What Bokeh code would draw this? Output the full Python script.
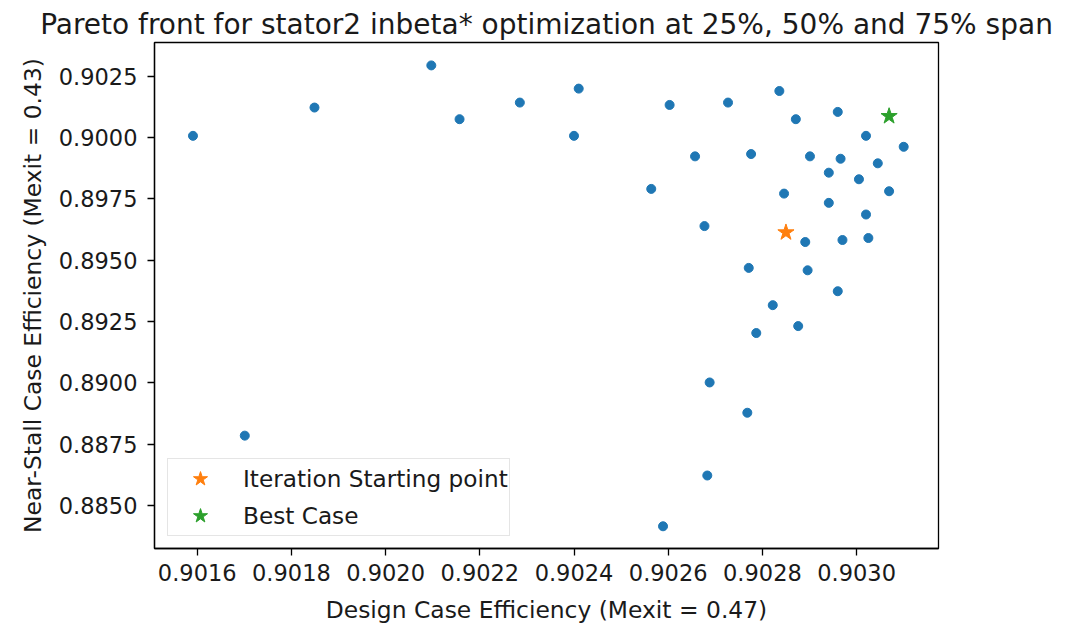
from bokeh.plotting import figure
from bokeh.models import Range1d, FixedTicker, PrintfTickFormatter, Legend, LegendItem
from bokeh.embed import file_html
from bokeh.resources import INLINE

# ---- data ----
design_eff = [0.901591, 0.901849, 0.902097, 0.902157, 0.902285, 0.902410, 0.902400,
              0.902603, 0.902727, 0.902836, 0.902871, 0.902960, 0.903020, 0.903100,
              0.902657, 0.902776, 0.902901, 0.902966, 0.903045, 0.902941, 0.903005,
              0.902564, 0.902846, 0.903069, 0.902941, 0.903020, 0.902677, 0.902891,
              0.902970, 0.903025, 0.902771, 0.902896, 0.902960, 0.902822, 0.902876,
              0.902787, 0.902688, 0.902768, 0.902683, 0.902589, 0.901701]
near_stall_eff = [0.900074, 0.901228, 0.902947, 0.900753, 0.901431, 0.902000, 0.900074,
                  0.901334, 0.901431, 0.901903, 0.900753, 0.901050, 0.900074, 0.899627,
                  0.899237, 0.899331, 0.899237, 0.899140, 0.898953, 0.898571, 0.898303,
                  0.897909, 0.897718, 0.897815, 0.897340, 0.896865, 0.896393, 0.895743,
                  0.895825, 0.895906, 0.894687, 0.894589, 0.893736, 0.893167, 0.892314,
                  0.892030, 0.890014, 0.888779, 0.886219, 0.884148, 0.887845]
start_design = [0.902850]
start_stall = [0.896133]
best_design = [0.903069]
best_stall = [0.900875]

x_ticks = [0.9016, 0.9018, 0.9020, 0.9022, 0.9024, 0.9026, 0.9028, 0.9030]
y_ticks = [0.8850, 0.8875, 0.8900, 0.8925, 0.8950, 0.8975, 0.9000, 0.9025]

FONT = "DejaVu Sans"
TXT = "#1a1a1a"

p = figure(width=1076, height=626, output_backend="svg", toolbar_location=None,
           x_range=Range1d(0.9015093, 0.9031739), y_range=Range1d(0.8832414, 0.9038814),
           min_border_left=154, min_border_right=138, min_border_top=42, min_border_bottom=76,
           title="Pareto front for stator2 inbeta* optimization at 25%, 50% and 75% span")

p.title.align = "center"
p.title.vertical_align = "top"
p.title.text_font = FONT
p.title.text_font_size = "28px"
p.title.text_font_style = "normal"
p.title.text_color = TXT
p.title.standoff = 0

p.xgrid.visible = False
p.ygrid.visible = False
p.outline_line_color = "black"
p.outline_line_width = 1.3
p.outline_line_alpha = 1.0

for ax in (p.xaxis[0], p.yaxis[0]):
    ax.axis_line_color = "black"
    ax.axis_line_width = 1.3
    ax.major_tick_line_color = "black"
    ax.major_tick_line_width = 1.3
    ax.major_tick_in = 0
    ax.major_tick_out = 7
    ax.minor_tick_line_color = None
    ax.major_label_text_font = FONT
    ax.major_label_text_font_size = "22.5px"
    ax.major_label_text_color = TXT
    ax.axis_label_text_font = FONT
    ax.axis_label_text_font_size = "23.4px"
    ax.axis_label_text_font_style = "normal"
    ax.axis_label_text_color = TXT
    ax.formatter = PrintfTickFormatter(format="%.4f")

p.xaxis[0].ticker = FixedTicker(ticks=x_ticks)
p.yaxis[0].ticker = FixedTicker(ticks=y_ticks)
p.xaxis[0].axis_label = "Design Case Efficiency (Mexit = 0.47)"
p.yaxis[0].axis_label = "Near-Stall Case Efficiency (Mexit = 0.43)"
p.xaxis[0].major_label_standoff = 8
p.xaxis[0].axis_label_standoff = 12
p.yaxis[0].major_label_standoff = 10
p.yaxis[0].axis_label_standoff = 9

p.scatter(design_eff, near_stall_eff, marker="circle", size=9,
          fill_color="#1f77b4", line_color="#1f77b4")
r_start = p.scatter(start_design, start_stall, marker="star", size=17,
                    fill_color="#ff7f0e", line_color="#ff7f0e")
r_best = p.scatter(best_design, best_stall, marker="star", size=17,
                   fill_color="#2ca02c", line_color="#2ca02c")

legend = Legend(items=[LegendItem(label="Iteration Starting point", renderers=[r_start]),
                       LegendItem(label="Best Case", renderers=[r_best])],
                location=(13, 12))
legend.label_text_font = FONT
legend.label_text_font_size = "23.2px"
legend.label_text_color = TXT
legend.padding = 1
legend.spacing = 0
legend.label_height = 37
legend.glyph_height = 37
legend.glyph_width = 62
legend.label_standoff = 12
legend.margin = 0
legend.border_line_color = "#cccccc"
legend.border_line_width = 1.3
legend.background_fill_color = "white"
legend.background_fill_alpha = 0.8
p.add_layout(legend, "center")

open("out.html", "w").write(file_html(p, INLINE))
